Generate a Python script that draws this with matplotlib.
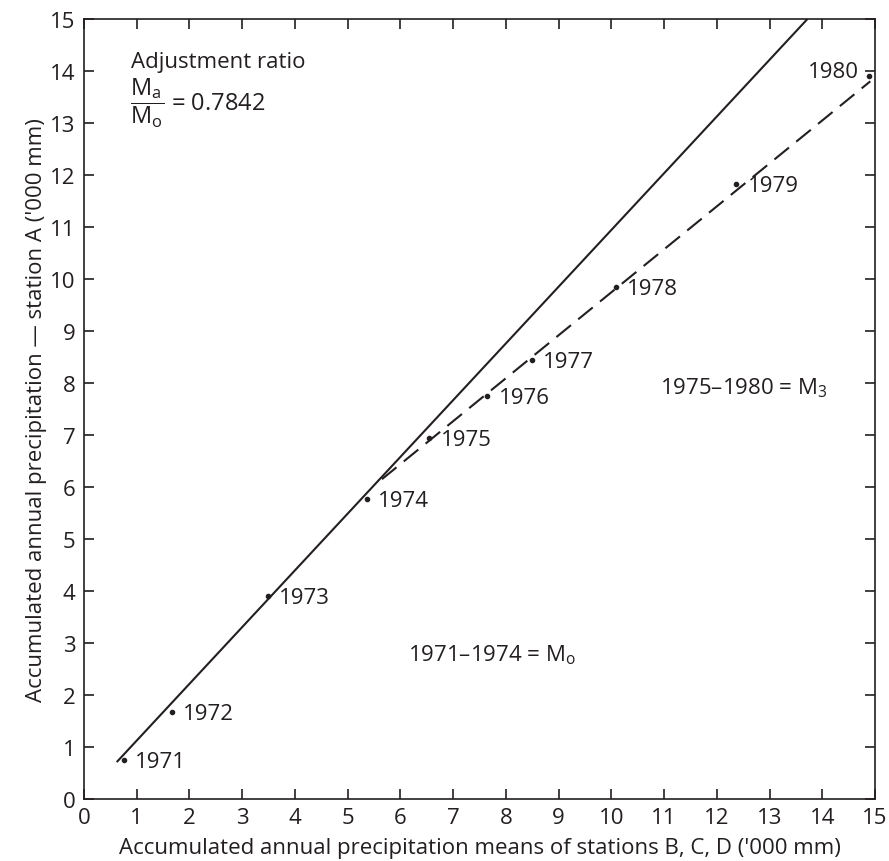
import matplotlib
matplotlib.use("Agg")
import matplotlib.pyplot as plt

plt.rcParams["font.family"] = ["Open Sans", "DejaVu Sans"]
plt.rcParams["mathtext.fontset"] = "custom"
plt.rcParams["mathtext.rm"] = "Open Sans"
plt.rcParams["mathtext.it"] = "Open Sans"

years = ["1971", "1972", "1973", "1974", "1975", "1976", "1977", "1978", "1979", "1980"]
x_vals = [0.76, 1.67, 3.49, 5.37, 6.55, 7.65, 8.50, 10.08, 12.37, 14.88]
y_vals = [0.75, 1.67, 3.90, 5.77, 6.94, 7.75, 8.44, 9.85, 11.83, 13.90]

# fitted lines (end points)
solid_x = [0.62, 13.72]
solid_y = [0.71, 15.0]
dash_x = [5.65, 14.91]
dash_y = [6.15, 13.80]

ink = "#231f20"
fs = 16
fig = plt.figure(figsize=(8.89, 8.62), dpi=100)
ax = fig.add_axes([0.0945, 0.0719, 0.8898, 0.905])

ax.plot(solid_x, solid_y, color=ink, lw=1.5, solid_capstyle="butt")
ax.plot(dash_x, dash_y, color=ink, lw=1.5, dashes=(9, 4.5))
ax.plot(x_vals, y_vals, "o", color=ink, ms=3)

for yr, x, y in zip(years, x_vals, y_vals):
    if yr == "1980":
        ax.annotate(yr, (x, y), xytext=(-7, 3), textcoords="offset points",
                    fontsize=fs, ha="right", va="center", color=ink)
    else:
        ax.annotate(yr, (x, y), xytext=(8, -1), textcoords="offset points",
                    fontsize=fs, ha="left", va="center", color=ink)

ax.text(0.9, 14.19, "Adjustment ratio", fontsize=fs, ha="left", va="center", color=ink)
ax.text(0.88, 13.4, r"$\dfrac{\mathrm{M_a}}{\mathrm{M_o}}$ = 0.7842", fontsize=fs + 1,
        ha="left", va="center", color=ink)
ax.text(10.93, 7.92, "1975–1980 = M$_3$", fontsize=fs, ha="left", va="center", color=ink)
ax.text(6.15, 2.79, "1971–1974 = M$_\\mathrm{o}$", fontsize=fs, ha="left", va="center", color=ink)

ax.set_xlim(0, 15)
ax.set_ylim(0, 15)
ax.set_xticks(range(0, 16))
ax.set_yticks(range(0, 16))
ax.tick_params(direction="in", length=7, width=1.2, top=True, right=True,
               labelsize=fs, colors=ink, pad=6)
for s in ax.spines.values():
    s.set_linewidth(1.2)
    s.set_color(ink)

ax.set_xlabel("Accumulated annual precipitation means of stations B, C, D ('000 mm)",
              fontsize=fs, color=ink, labelpad=6)
ax.set_ylabel("Accumulated annual precipitation — station A ('000 mm)",
              fontsize=fs, color=ink, labelpad=2)

fig.savefig("out.png", dpi=100)
